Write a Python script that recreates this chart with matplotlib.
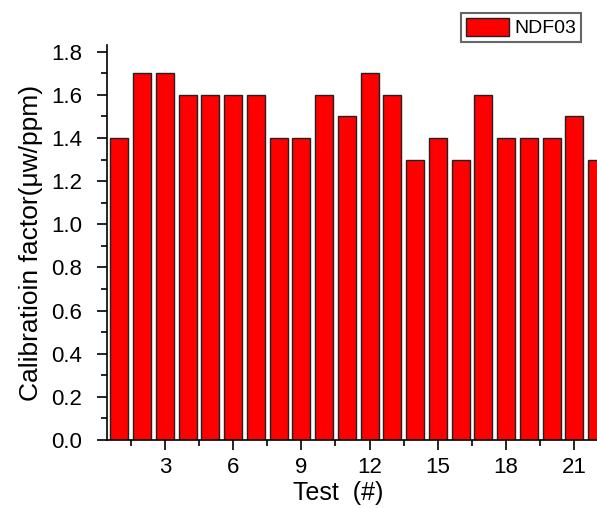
import numpy as np
import matplotlib.pyplot as plt
from matplotlib.ticker import MultipleLocator

tests = np.arange(1, 23)
factor = [1.4, 1.7, 1.7, 1.6, 1.6, 1.6, 1.6, 1.4, 1.4, 1.6, 1.5,
          1.7, 1.6, 1.3, 1.4, 1.3, 1.6, 1.4, 1.4, 1.4, 1.5, 1.3]

plt.rcParams['font.family'] = ['Liberation Sans', 'DejaVu Sans']

fig = plt.figure(figsize=(5.97, 5.08), dpi=100)
ax = fig.add_axes([0.179, 0.134, 0.825, 0.777])

ax.bar(tests, factor, width=0.8, color='#ff0000', edgecolor='#222222',
       linewidth=1.0, label='NDF03')

ax.set_xlim(0.45, 22.1)
ax.set_ylim(0, 1.83)
ax.xaxis.set_major_locator(MultipleLocator(3))
ax.xaxis.set_minor_locator(MultipleLocator(1.5))
ax.yaxis.set_major_locator(MultipleLocator(0.2))
ax.yaxis.set_minor_locator(MultipleLocator(0.1))
ax.yaxis.set_major_formatter(plt.FuncFormatter(lambda v, p: f'{v:.1f}'))

for s in ['top', 'right']:
    ax.spines[s].set_visible(False)
ax.spines['left'].set_linewidth(1.2)
ax.spines['bottom'].set_linewidth(1.2)
ax.tick_params(which='major', direction='out', length=7, width=1.2, labelsize=16)
ax.tick_params(which='minor', direction='out', length=4, width=1.2)
ax.tick_params(axis='y', which='major', pad=11)
ax.tick_params(axis='x', which='major', pad=5)

ax.set_xlabel('Test  (#)', fontsize=18)
ax.xaxis.set_label_coords(0.469, -0.105)
ax.set_ylabel('Calibratioin factor(\u03bcw/ppm)', fontsize=19, labelpad=6)

leg = ax.legend(loc='upper right', bbox_to_anchor=(0.963, 1.081), fontsize=14,
                fancybox=False, framealpha=1, edgecolor='#666666',
                handlelength=2.2, handleheight=1.0, handletextpad=0.3,
                borderpad=0.25, borderaxespad=0)
leg.get_frame().set_linewidth(1.5)

fig.savefig('out.png', dpi=100)
